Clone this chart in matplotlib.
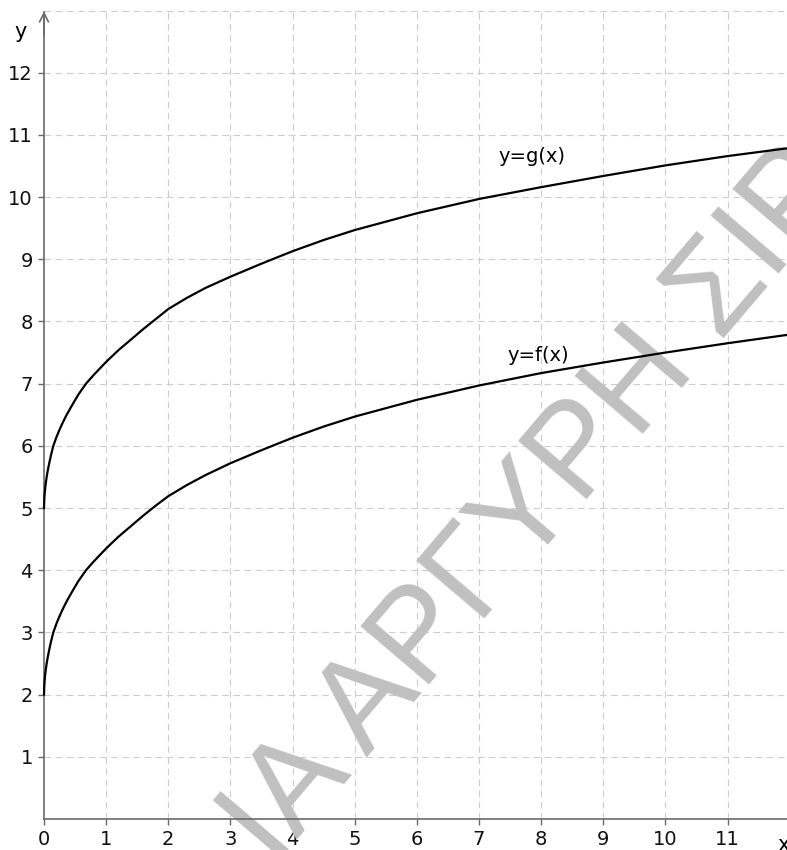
import matplotlib
matplotlib.use("Agg")
import matplotlib.pyplot as plt

# Sampled values of the two curves
x_vals = [0, 0.005, 0.01, 0.02, 0.03, 0.043, 0.06, 0.08, 0.11, 0.15, 0.2, 0.25,
          0.3, 0.365, 0.45, 0.55, 0.676, 0.8, 1.0, 1.2, 1.33, 1.4, 1.6, 1.8,
          2.0, 2.3, 2.6, 3.0, 3.5, 4.0, 4.5, 5, 6, 7, 8, 9, 10, 11, 12]
f_vals = [2.0, 2.15, 2.22, 2.33, 2.41, 2.5, 2.6, 2.7, 2.84, 3.0, 3.14, 3.26,
          3.37, 3.5, 3.65, 3.82, 4.0, 4.14, 4.35, 4.54, 4.65, 4.71, 4.88, 5.04,
          5.19, 5.37, 5.53, 5.72, 5.93, 6.13, 6.31, 6.47, 6.74, 6.97, 7.17,
          7.34, 7.50, 7.65, 7.79]
g_vals = [5.0, 5.15, 5.22, 5.33, 5.41, 5.5, 5.6, 5.7, 5.84, 6.0, 6.14, 6.26,
          6.37, 6.5, 6.65, 6.82, 7.0, 7.14, 7.35, 7.54, 7.65, 7.71, 7.88, 8.04,
          8.2, 8.38, 8.54, 8.72, 8.93, 9.13, 9.31, 9.47, 9.74, 9.97, 10.16,
          10.34, 10.51, 10.66, 10.79]

x_ticks = [0, 1, 2, 3, 4, 5, 6, 7, 8, 9, 10, 11]
y_ticks = [1, 2, 3, 4, 5, 6, 7, 8, 9, 10, 11, 12]
grid_x = [1, 2, 3, 4, 5, 6, 7, 8, 9, 10, 11, 12]
grid_y = [1, 2, 3, 4, 5, 6, 7, 8, 9, 10, 11, 12, 13]

label_g = "y=g(x)"
label_f = "y=f(x)"
watermark = "ΙΑ ΑΡΓΥΡΗ ΣΙΡ"

axis_col = "#6a6a6a"
grid_col = "#cdcdcd"

fig = plt.figure(figsize=(7.87, 8.5), dpi=100)
ax = fig.add_axes([0, 0, 1, 1])
ax.set_xlim(-0.708, 11.956)
ax.set_ylim(-0.5, 13.17)
ax.patch.set_facecolor("white")

# dashed grid over the first quadrant
ax.hlines(grid_y, 0, 12, colors=grid_col, linewidth=0.8,
          linestyles=(0, (6, 4)), zorder=1)
ax.vlines(grid_x, 0, 13, colors=grid_col, linewidth=0.8,
          linestyles=(0, (6, 4)), zorder=1)

# watermark
ax.text(0.714, 0.379, watermark, transform=ax.transAxes,
        fontsize=93, family="Liberation Sans", color="#c0c0c0",
        rotation=49.6, rotation_mode="anchor", ha="center", va="baseline",
        zorder=2, clip_on=True)

# curves
ax.plot(x_vals, g_vals, color="black", linewidth=1.6, zorder=4)
ax.plot(x_vals, f_vals, color="black", linewidth=1.6, zorder=4)

ax.text(7.32, 10.65, label_g, fontsize=14, ha="left", va="center", zorder=5)
ax.text(7.45, 7.45, label_f, fontsize=14, ha="left", va="center", zorder=5)

# axes through the origin
for side in ("top", "right"):
    ax.spines[side].set_visible(False)
ax.spines["left"].set_position(("data", 0))
ax.spines["bottom"].set_position(("data", 0))
ax.spines["left"].set_bounds(0, 12.98)
ax.spines["bottom"].set_bounds(0, 12.5)
for side in ("left", "bottom"):
    ax.spines[side].set_color(axis_col)
    ax.spines[side].set_linewidth(1.2)
    ax.spines[side].set_zorder(3)

ax.annotate("", xy=(0, 12.99), xytext=(0, 12.6),
            arrowprops=dict(arrowstyle="->", color=axis_col, lw=1.2,
                            mutation_scale=16, shrinkA=0, shrinkB=0),
            zorder=3)

ax.set_xticks(x_ticks)
ax.set_yticks(y_ticks)
ax.set_xticklabels([str(v) for v in x_ticks])
ax.set_yticklabels([str(v) for v in y_ticks])
ax.tick_params(axis="both", direction="out", length=4, width=1,
               color=axis_col, labelsize=14, labelcolor="#111111")
ax.tick_params(axis="x", pad=4)
ax.tick_params(axis="y", pad=4)

ax.text(-0.378, 12.66, "y", fontsize=15, ha="center", va="center")
ax.text(11.9, -0.42, "x", fontsize=15, ha="center", va="center")

fig.savefig("out.png", dpi=100, facecolor="white")
